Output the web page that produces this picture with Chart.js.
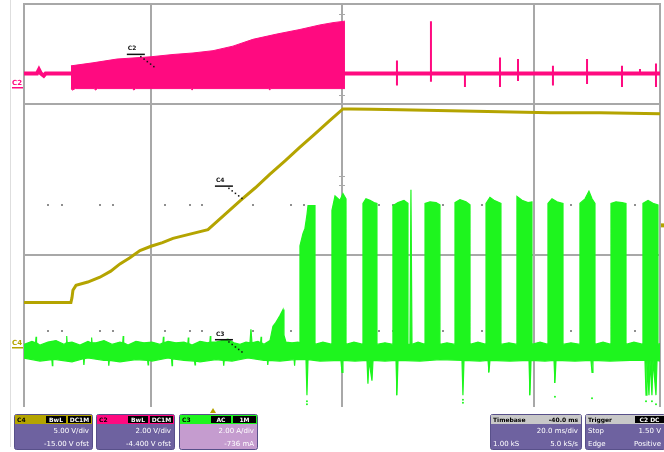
<!DOCTYPE html>
<html>
<head>
<meta charset="utf-8">
<title>Scope capture</title>
<script src="https://cdn.jsdelivr.net/npm/chart.js@4.4.1/dist/chart.umd.min.js"></script>
<style>
  html, body { margin: 0; padding: 0; background: #ffffff; }
  canvas { display: block; }
</style>
</head>
<body>
<canvas id="scope" width="664" height="452"></canvas>
<script>
// ---- Screen layout (time in ms, vertical in divisions) ----
const timeMin = -13.26, timeMax = 53.16;
const majorTimes = [0, 20, 40];
const screenDivs = 2.658;
const majorDivs = [1, 2];
const dotTimes = [-10.76, -9.30, -5.33, -3.97, 1.46, 4.07, 5.33, 10.65, 14.62, 15.98, 23.81, 25.27, 30.50, 34.57, 43.86, 50.55];
const dotDivs = [0.5, 1.33];
const tickDivs = [2.59, 2.06, 1.526, 1.467];

// ---- Channel settings ----
const channelNames = ['C2', 'C4', 'C3'];
const channelUnits = ['V', 'V', 'A'];
const voltsPerDiv = [2, 5, 2];
const zeroDivs = [2.2, 0.5, 0.368];
const markerLevels = [-0.18, -0.53, null];

// ---- C2 (gate drive): flat line, dense switching burst, then isolated pulses ----
const c2Baseline = [[-13.26, 0], [-11.9, 0], [-11.7, 0.05], [-11.5, 0], [-11.2, -0.03], [-11.0, 0], [53.16, 0]];
const c2BurstHigh = [[-8.36, 0.10], [-6.06, 0.14], [-3.55, 0.19], [-1.15, 0.21], [0, 0.22], [2.30, 0.25], [4.39, 0.27],
  [6.48, 0.30], [8.56, 0.36], [10.65, 0.45], [13.16, 0.52], [15.56, 0.58], [17.65, 0.64], [19.01, 0.67], [20.26, 0.69]];
const c2BurstLow = [[-8.36, -0.20], [-8.2, -0.22], [-7.9, -0.20], [-5.9, -0.20], [-5.8, -0.22], [-5.6, -0.20],
  [-1.9, -0.20], [-1.8, -0.22], [-1.6, -0.20], [4.2, -0.20], [4.3, -0.22], [4.4, -0.20],
  [12.3, -0.20], [12.4, -0.22], [12.5, -0.20], [20.26, -0.20]];
// [time, peak, trough]
const c2Pulses = [[25.69, 0.17, -0.16], [29.24, 0.69, -0.11], [32.79, 0, -0.18], [36.45, 0.21, -0.18], [38.33, 0.19, -0.10],
  [41.98, 0.10, -0.16], [45.54, 0.19, -0.14], [49.19, 0.10, -0.18], [51.07, 0.06, -0.02], [52.74, 0.13, -0.18]];

// ---- C4 (output voltage ramp) ----
const c4Trace = [[-13.26, 0.95], [-8.36, 0.95], [-8.25, 1.10], [-8.15, 1.35], [-7.83, 1.51], [-6.6, 1.62], [-5.33, 1.78],
  [-4.2, 1.98], [-3.24, 2.22], [-2.2, 2.42], [-1.15, 2.66], [0, 2.80], [1.2, 2.92], [2.30, 3.06], [4.07, 3.20], [5.95, 3.35],
  [7.73, 3.85], [9.30, 4.30], [10.9, 4.73], [12.43, 5.18], [14.0, 5.62], [15.56, 6.07], [17.1, 6.50], [18.69, 6.95],
  [20.05, 7.33], [20.78, 7.33], [23.0, 7.32], [26.01, 7.30], [31.23, 7.27], [36.45, 7.24], [41.67, 7.20], [46.89, 7.20], [53.16, 7.17]];

// ---- C3 (current): upper and lower edges of the noisy trace ----
const c3Upper = [[-13.26, 0.09], [-12.43, 0.13], [-12.05, 0.11], [-12.0, 0.19], [-11.95, 0.11], [-11.59, 0.08],
  [-10.76, 0.12], [-9.92, 0.14], [-9.09, 0.09], [-8.85, 0.11], [-8.8, 0.20], [-8.75, 0.11], [-8.25, 0.12],
  [-7.41, 0.08], [-6.58, 0.13], [-6.25, 0.11], [-6.2, 0.18], [-6.15, 0.11], [-5.74, 0.11], [-4.91, 0.14], [-4.07, 0.09],
  [-3.24, 0.12], [-2.95, 0.11], [-2.9, 0.20], [-2.85, 0.11], [-2.40, 0.08], [-1.57, 0.13], [-0.73, 0.11], [0.10, 0.12],
  [0.94, 0.09], [1.25, 0.11], [1.3, 0.19], [1.35, 0.11], [1.78, 0.13], [2.61, 0.11], [3.45, 0.12], [3.85, 0.10],
  [3.9, 0.18], [3.95, 0.10], [4.28, 0.08], [5.12, 0.13], [5.95, 0.11], [6.15, 0.12], [6.2, 0.20], [6.25, 0.12],
  [6.79, 0.12], [7.42, 0.14], [8.04, 0.16], [8.67, 0.11], [9.30, 0.09], [9.92, 0.12], [10.34, 0.11], [10.44, 0.29],
  [10.55, 0.11], [11.17, 0.13], [11.45, 0.11], [11.5, 0.19], [11.55, 0.11], [11.80, 0.09], [12.43, 0.14],
  [12.74, 0.33], [13.05, 0.38], [13.47, 0.47], [13.79, 0.55], [13.89, 0.21], [14.10, 0.12], [14.73, 0.11], [15.35, 0.12],
  [15.56, 0.11], [15.56, 1.39], [15.87, 1.55], [16.08, 1.62], [16.29, 1.80], [16.40, 1.92], [17.13, 1.92], [17.13, 0.09],
  [17.96, 0.12],
  [18.90, 0.09], [18.90, 1.86], [19.22, 2.05], [19.74, 1.99], [20.05, 2.08], [20.37, 2.01], [20.37, 0.09],
  [21.20, 0.12],
  [22.14, 0.09], [22.14, 1.95], [22.45, 2.01], [22.87, 1.99], [23.29, 1.96], [23.60, 1.95], [23.60, 0.09],
  [24.44, 0.11],
  [25.27, 0.09], [25.27, 1.92], [25.80, 1.96], [26.42, 1.99], [26.84, 1.95], [26.84, 0.09], [27.05, 0.09], [27.15, 2.13], [27.26, 0.09],
  [27.89, 0.12],
  [28.62, 0.09], [28.62, 1.95], [29.14, 1.97], [29.77, 1.96], [30.18, 1.93], [30.18, 0.09],
  [30.91, 0.11],
  [31.75, 0.09], [31.75, 1.96], [32.27, 2.00], [32.90, 1.97], [33.32, 1.93], [33.32, 0.09],
  [34.15, 0.12],
  [34.99, 0.09], [34.99, 1.95], [35.40, 2.03], [35.82, 1.99], [36.55, 1.95], [36.55, 0.09],
  [37.39, 0.11],
  [38.22, 0.09], [38.22, 2.04], [38.75, 1.99], [39.37, 1.96], [39.79, 1.97], [39.79, 0.09],
  [40.63, 0.12],
  [41.46, 0.09], [41.46, 1.95], [41.88, 2.01], [42.40, 1.97], [43.03, 1.95], [43.03, 0.09],
  [43.86, 0.11],
  [44.80, 0.09], [44.80, 1.95], [45.33, 2.01], [45.74, 2.11], [46.06, 2.01], [46.37, 1.95], [46.37, 0.09],
  [47.21, 0.12],
  [48.04, 0.09], [48.04, 1.95], [48.56, 1.97], [49.19, 1.96], [49.61, 1.95], [49.61, 0.09],
  [50.44, 0.12],
  [51.38, 0.09], [51.38, 1.95], [51.91, 1.99], [52.43, 1.95], [52.95, 1.93], [52.95, 0.09], [53.16, 0.10]];
const c3Lower = [[-13.26, -0.09], [-11.59, -0.13], [-10.35, -0.11], [-10.3, -0.19], [-10.25, -0.11], [-9.92, -0.11],
  [-8.25, -0.14], [-7.05, -0.10], [-7.0, -0.18], [-6.95, -0.10], [-6.58, -0.09], [-4.91, -0.12], [-4.45, -0.12],
  [-4.4, -0.19], [-4.35, -0.12], [-3.24, -0.14], [-1.57, -0.11], [-0.35, -0.12], [-0.3, -0.18], [-0.25, -0.12],
  [0.10, -0.13], [1.78, -0.09], [2.15, -0.10], [2.2, -0.19], [2.25, -0.10], [3.45, -0.12], [4.55, -0.13], [4.6, -0.18],
  [4.65, -0.13], [5.12, -0.14], [6.79, -0.11], [7.55, -0.12], [7.6, -0.19], [7.65, -0.12], [8.46, -0.13], [10.13, -0.09],
  [11.80, -0.12], [12.15, -0.12], [12.2, -0.18], [12.25, -0.12], [13.47, -0.13], [14.95, -0.11], [15.0, -0.19],
  [15.05, -0.11], [16.19, -0.11], [16.29, -0.58], [16.40, -0.11], [17.65, -0.13],
  [19.84, -0.12], [19.95, -0.28], [20.05, -0.12], [21.31, -0.13], [22.56, -0.12], [22.66, -0.43], [22.77, -0.12],
  [23.08, -0.39], [23.19, -0.12], [24.44, -0.13], [25.59, -0.12], [25.69, -0.58], [25.80, -0.12], [28.09, -0.13],
  [30.18, -0.11], [32.48, -0.12], [32.58, -0.58], [32.69, -0.12], [34.36, -0.13], [35.20, -0.12], [35.30, -0.28],
  [35.40, -0.12], [37.49, -0.13], [39.48, -0.12], [39.58, -0.58], [39.69, -0.12], [41.15, -0.13], [42.09, -0.12],
  [42.19, -0.42], [42.30, -0.12], [44.28, -0.13], [45.95, -0.12], [46.06, -0.28], [46.16, -0.12], [47.94, -0.13],
  [50.03, -0.12], [51.59, -0.12], [51.70, -0.58], [51.80, -0.12], [52.01, -0.58], [52.12, -0.12], [52.32, -0.58],
  [52.43, -0.12], [52.74, -0.58], [52.85, -0.12], [53.16, -0.13]];
const c3Samples = [[16.29, -0.66], [16.29, -0.70], [32.58, -0.64], [32.58, -0.68], [42.19, -0.60], [46.06, -0.62],
  [51.70, -0.66], [52.32, -0.66], [52.74, -0.70]];

// ---- Trace tags: [channel index, time, level] ----
const traceTags = [[0, 0.30, 0.09], [1, 9.50, 4.38], [2, 9.50, -0.01]];
const triggerTime = 6.48;
const triggerLevel = 3.49;

// ---- Readout texts (indexed like channelNames) ----
const readoutOrder = [1, 0, 2];
const readoutCoupling = [['BwL', 'DC1M'], ['BwL', 'DC1M'], ['AC', '1M']];
const readoutOffset = ['-4.400 V ofst', '-15.00 V ofst', '-736 mA'];
const timebaseText = ['Timebase', '-40.0 ms', '20.0 ms/div', '1.00 kS', '5.0 kS/s'];
const triggerText = ['Trigger', 'C2 DC', 'Stop', '1.50 V', 'Edge', 'Positive'];

const colors = { C2: '#ff0a80', C4: '#b4a400', C3: '#1ef51e' };

const xy = pts => pts.map(([x, y]) => ({ x, y }));
const pulseSegments = c2Pulses.flatMap(([t, hi, lo]) => [{ x: t, y: hi }, { x: t, y: lo }, { x: t, y: null }]);
const axisId = i => 'y' + channelNames[i];

function channelScale(i) {
  return {
    type: 'linear', display: false,
    min: -zeroDivs[i] * voltsPerDiv[i],
    max: (screenDivs - zeroDivs[i]) * voltsPerDiv[i]
  };
}

const datasets = [
  { data: xy(c3Samples), yAxisID: 'yC3', showLine: false, pointRadius: 1, pointBorderWidth: 0, pointBackgroundColor: colors.C3 },
  { data: xy(c3Upper), yAxisID: 'yC3', borderColor: colors.C3, backgroundColor: colors.C3, borderWidth: 1.2, fill: '+1' },
  { data: xy(c3Lower), yAxisID: 'yC3', borderColor: colors.C3, borderWidth: 1.2, fill: false },
  { data: xy(c4Trace), yAxisID: 'yC4', borderColor: colors.C4, borderWidth: 3, fill: false },
  { data: pulseSegments, yAxisID: 'yC2', borderColor: colors.C2, borderWidth: 2, fill: false, spanGaps: false },
  { data: xy(c2Baseline), yAxisID: 'yC2', borderColor: colors.C2, borderWidth: 4, fill: false },
  { data: xy(c2BurstHigh), yAxisID: 'yC2', borderColor: colors.C2, backgroundColor: colors.C2, borderWidth: 1, fill: '+1' },
  { data: xy(c2BurstLow), yAxisID: 'yC2', borderColor: colors.C2, borderWidth: 1, fill: false }
].map(d => Object.assign({ xAxisID: 'x', pointRadius: 0, tension: 0 }, d));

// Graticule: frame, major lines, minor dots and centre-line ticks
const screenGrid = {
  id: 'screenGrid',
  beforeDatasetsDraw(chart) {
    const { ctx, chartArea: a, scales } = chart;
    const x = scales.x, y = scales.yDiv;
    ctx.save();
    ctx.strokeStyle = '#dedede';
    ctx.lineWidth = 1;
    ctx.beginPath(); ctx.moveTo(10.5, 0); ctx.lineTo(10.5, 447); ctx.stroke();

    ctx.strokeStyle = '#a8a8a8';
    ctx.lineWidth = 2;
    ctx.beginPath();
    [timeMin, ...majorTimes, timeMax].forEach(t => {
      const px = Math.round(x.getPixelForValue(t));
      ctx.moveTo(px, a.top - 1); ctx.lineTo(px, a.bottom);
    });
    [...majorDivs, screenDivs].forEach(d => {
      const py = Math.round(y.getPixelForValue(d));
      ctx.moveTo(a.left - 1, py); ctx.lineTo(a.right + 1, py);
    });
    ctx.stroke();

    ctx.fillStyle = '#8f8f8f';
    dotDivs.forEach(d => {
      const py = Math.round(y.getPixelForValue(d));
      dotTimes.forEach(t => ctx.fillRect(Math.round(x.getPixelForValue(t)) - 1, py - 1, 2, 2));
    });
    const cx = Math.round(x.getPixelForValue(majorTimes[1]));
    ctx.fillStyle = '#a8a8a8';
    tickDivs.forEach(d => ctx.fillRect(cx - 3, Math.round(y.getPixelForValue(d)), 6, 1));
    ctx.restore();
  }
};

// Channel tags, ground markers and trigger markers
const traceMarkers = {
  id: 'traceMarkers',
  afterDatasetsDraw(chart) {
    const { ctx, chartArea: a, scales } = chart;
    const x = scales.x;
    ctx.save();
    ctx.font = 'bold 6px "DejaVu Sans", sans-serif';
    ctx.textBaseline = 'top';
    traceTags.forEach(([ch, t, v]) => {
      const ax = x.getPixelForValue(t), ay = scales[axisId(ch)].getPixelForValue(v);
      ctx.fillStyle = '#111';
      ctx.fillText(channelNames[ch], ax - 26, ay - 21);
      ctx.fillRect(ax - 27, ay - 13, 18, 1.5);
      for (let k = 0; k < 5; k++) {
        const f = k / 4;
        ctx.fillRect(ax - 13 + 13 * f - 0.75, ay - 10 + 10 * f - 0.75, 1.5, 1.5);
      }
    });

    markerLevels.forEach((lvl, ch) => {
      if (lvl === null) return;
      const py = Math.round(scales[axisId(ch)].getPixelForValue(lvl));
      const col = colors[channelNames[ch]];
      ctx.fillStyle = col;
      ctx.font = 'bold 7px "DejaVu Sans", sans-serif';
      ctx.textBaseline = 'alphabetic';
      ctx.fillText(channelNames[ch], 12, py - 2);
      ctx.fillRect(12, py, 11, 1.5);
    });

    // trigger level (right edge) and trigger time (below screen)
    ctx.fillStyle = colors.C4;
    const ty = scales.yC4.getPixelForValue(triggerLevel);
    ctx.fillRect(a.right + 1, ty - 2, 3, 4);
    const tx = x.getPixelForValue(triggerTime);
    ctx.beginPath();
    ctx.moveTo(tx - 3, 413); ctx.lineTo(tx + 3, 413); ctx.lineTo(tx, 408); ctx.closePath();
    ctx.fill();
    ctx.restore();
  }
};

function panel(ctx, x, w, headColor, bodyColor) {
  ctx.fillStyle = bodyColor;
  ctx.strokeStyle = '#58508a';
  ctx.lineWidth = 1;
  ctx.beginPath();
  ctx.roundRect(x + 0.5, 414.5, w, 35, 2);
  ctx.fill();
  ctx.stroke();
  ctx.fillStyle = headColor;
  ctx.fillRect(x + 1, 415, w - 1, 9);
}

function block(ctx, x, w, text) {
  ctx.fillStyle = '#000';
  ctx.fillRect(x, 416, w, 7);
  ctx.fillStyle = '#fff';
  ctx.textAlign = 'center';
  ctx.fillText(text, x + w / 2, 422);
  ctx.textAlign = 'left';
}

// Readout panels along the bottom
const readoutPanel = {
  id: 'readoutPanel',
  afterDraw(chart) {
    const ctx = chart.ctx;
    ctx.save();
    const lefts = [14, 96, 179];
    readoutOrder.forEach((ch, k) => {
      const x = lefts[k], w = 78;
      const name = channelNames[ch];
      panel(ctx, x, w, colors[name], ch === 2 ? '#c59ccf' : '#6e62a0');
      ctx.font = 'bold 6px "DejaVu Sans", sans-serif';
      ctx.fillStyle = '#000';
      ctx.textBaseline = 'alphabetic';
      ctx.fillText(name, x + 3, 422);
      const [c1, c2] = readoutCoupling[ch];
      block(ctx, x + w - 46, 20, c1);
      block(ctx, x + w - 24, 23, c2);
      ctx.font = '7px "DejaVu Sans", sans-serif';
      ctx.fillStyle = '#ffffff';
      ctx.textAlign = 'right';
      ctx.fillText(voltsPerDiv[ch].toFixed(2) + ' ' + channelUnits[ch] + '/div', x + w - 3, 433);
      ctx.fillText(readoutOffset[ch], x + w - 3, 446);
      ctx.textAlign = 'left';
    });

    // timebase
    let x = 490, w = 91;
    panel(ctx, x, w, '#c8c8c8', '#6e62a0');
    ctx.font = 'bold 6px "DejaVu Sans", sans-serif';
    ctx.fillStyle = '#000';
    ctx.fillText(timebaseText[0], x + 3, 422);
    ctx.textAlign = 'right';
    ctx.fillText(timebaseText[1], x + w - 3, 422);
    ctx.font = '7px "DejaVu Sans", sans-serif';
    ctx.fillStyle = '#fff';
    ctx.fillText(timebaseText[2], x + w - 3, 433);
    ctx.fillText(timebaseText[4], x + w - 3, 446);
    ctx.textAlign = 'left';
    ctx.fillText(timebaseText[3], x + 3, 446);

    // trigger
    x = 585; w = 80;
    panel(ctx, x, w, '#c8c8c8', '#6e62a0');
    ctx.font = 'bold 6px "DejaVu Sans", sans-serif';
    ctx.fillStyle = '#000';
    ctx.fillText(triggerText[0], x + 3, 422);
    block(ctx, x + w - 30, 29, triggerText[1]);
    ctx.font = '7px "DejaVu Sans", sans-serif';
    ctx.fillStyle = '#fff';
    ctx.fillText(triggerText[2], x + 3, 433);
    ctx.fillText(triggerText[4], x + 3, 446);
    ctx.textAlign = 'right';
    ctx.fillText(triggerText[3], x + w - 4, 433);
    ctx.fillText(triggerText[5], x + w - 4, 446);
    ctx.restore();
  }
};

new Chart(document.getElementById('scope'), {
  type: 'line',
  data: { datasets },
  options: {
    responsive: false,
    animation: false,
    devicePixelRatio: 1,
    events: [],
    layout: { padding: { left: 24, right: 4, top: 3, bottom: 45 } },
    plugins: { legend: { display: false }, tooltip: { enabled: false } },
    scales: {
      x: { type: 'linear', display: false, min: timeMin, max: timeMax },
      yDiv: { type: 'linear', display: false, min: 0, max: screenDivs },
      yC2: channelScale(0),
      yC4: channelScale(1),
      yC3: channelScale(2)
    }
  },
  plugins: [screenGrid, traceMarkers, readoutPanel]
});
</script>
</body>
</html>
